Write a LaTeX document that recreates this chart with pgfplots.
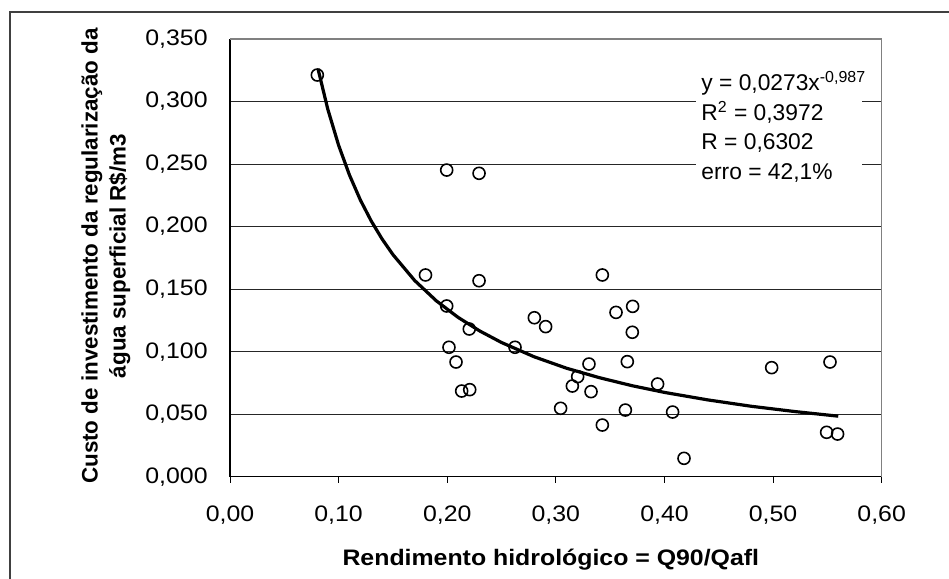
\documentclass[border=0pt]{standalone}
\usepackage{pgfplots}
\pgfplotsset{compat=1.18}
\usepackage{fontspec}
\setmainfont{Liberation Sans}
\newfontfamily\widefont[FakeStretch=1.11]{Liberation Sans}
\newfontfamily\eqfont{Liberation Sans}

% scatter: rendimento hidrologico vs custo
\pgfplotstableread{
x y
0.0804 0.3212
0.1995 0.2452
0.2293 0.2426
0.1800 0.1613
0.2293 0.1567
0.3428 0.1613
0.1995 0.1365
0.2203 0.1181
0.2016 0.1035
0.2081 0.0917
0.2133 0.0685
0.2207 0.0696
0.2624 0.1035
0.2802 0.1271
0.2906 0.1200
0.3044 0.0547
0.3152 0.0725
0.3201 0.0800
0.3305 0.0901
0.3324 0.0680
0.3428 0.0413
0.3554 0.1314
0.3707 0.1362
0.3704 0.1155
0.3658 0.0920
0.3640 0.0533
0.3937 0.0741
0.4075 0.0517
0.4180 0.0147
0.4987 0.0872
0.5524 0.0917
0.5493 0.0355
0.5594 0.0341
}\pontos

% tendencia (potencia)
\pgfplotstableread{
x y
0.081 0.3262
0.090 0.2940
0.100 0.2650
0.110 0.2412
0.120 0.2213
0.130 0.2045
0.140 0.1901
0.150 0.1776
0.170 0.1569
0.190 0.1406
0.210 0.1274
0.230 0.1165
0.250 0.1073
0.280 0.0959
0.310 0.0867
0.340 0.0792
0.370 0.0728
0.400 0.0674
0.440 0.0614
0.480 0.0563
0.520 0.0521
0.560 0.0484
}\tendencia

\begin{document}
\begin{tikzpicture}
\path[use as bounding box] (0,0) rectangle (474.5bp,289.5bp);
\draw[black!75, line width=1bp] (5bp,-1bp) -- (5bp,283.5bp) -- (476bp,283.5bp);

\begin{axis}[
  at={(115bp,51.15bp)}, anchor=south west,
  scale only axis,
  width=325.85bp, height=218.85bp,
  xmin=0, xmax=0.6, ymin=0, ymax=0.35,
  xtick={0,0.1,0.2,0.3,0.4,0.5,0.6},
  ytick={0,0.05,0.1,0.15,0.2,0.25,0.3,0.35},
  axis x line*=bottom, axis y line*=left,
  axis line style={black, line width=0.7bp, -},
  tick align=outside,
  major tick length=3bp,
  xtick style={black, line width=0.5bp},
  ytick style={draw=none},
  ymajorgrids=true,
  grid style={black!85, line width=0.55bp},
  tick label style={font=\widefont\fontsize{11.2bp}{13bp}\selectfont},
  /pgf/number format/assume math mode=true,
  /pgf/number format/use comma,
  xticklabel style={/pgf/number format/fixed, /pgf/number format/fixed zerofill, /pgf/number format/precision=2, anchor=center, yshift=-16bp},
  yticklabel style={/pgf/number format/fixed, /pgf/number format/fixed zerofill, /pgf/number format/precision=3, anchor=east, inner sep=0pt, xshift=-8bp},
  scaled ticks=false,
  clip=false,
]
\addplot[only marks, mark=o, mark size=3bp, black, mark options={line width=0.8bp}] table {\pontos};
\addplot[black, line width=1.6bp, no marks] table {\tendencia};
\draw[black!50, line width=0.8bp] (rel axis cs:0,1) -- (rel axis cs:1,1) -- (rel axis cs:1,0);
\end{axis}

\fill[white] (348bp,192bp) rectangle (431bp,259.5bp);
\begin{scope}[every node/.style={anchor=base west, inner sep=0pt, font=\eqfont\fontsize{11.4bp}{13bp}\selectfont}]
\node at (350.5bp,244.15bp) {y = 0,0273x\textsuperscript{-0,987}};
\node at (350.5bp,229.15bp) {R\textsuperscript{2} = 0,3972};
\node at (350.5bp,214.5bp) {R = 0,6302};
\node at (350.5bp,199.5bp) {erro = 42,1\%};
\end{scope}

\node[anchor=base, inner sep=0pt, font=\widefont\bfseries\fontsize{11.2bp}{13bp}\selectfont] at (275.4bp,7bp) {Rendimento hidrológico = Q90/Qafl};
\node[rotate=90, align=center, inner sep=0pt, font=\bfseries\fontsize{11.2bp}{14bp}\selectfont] at (53bp,161.5bp) {Custo de investimento da regularização da\\água superficial R\$/m3};
\end{tikzpicture}
\end{document}
